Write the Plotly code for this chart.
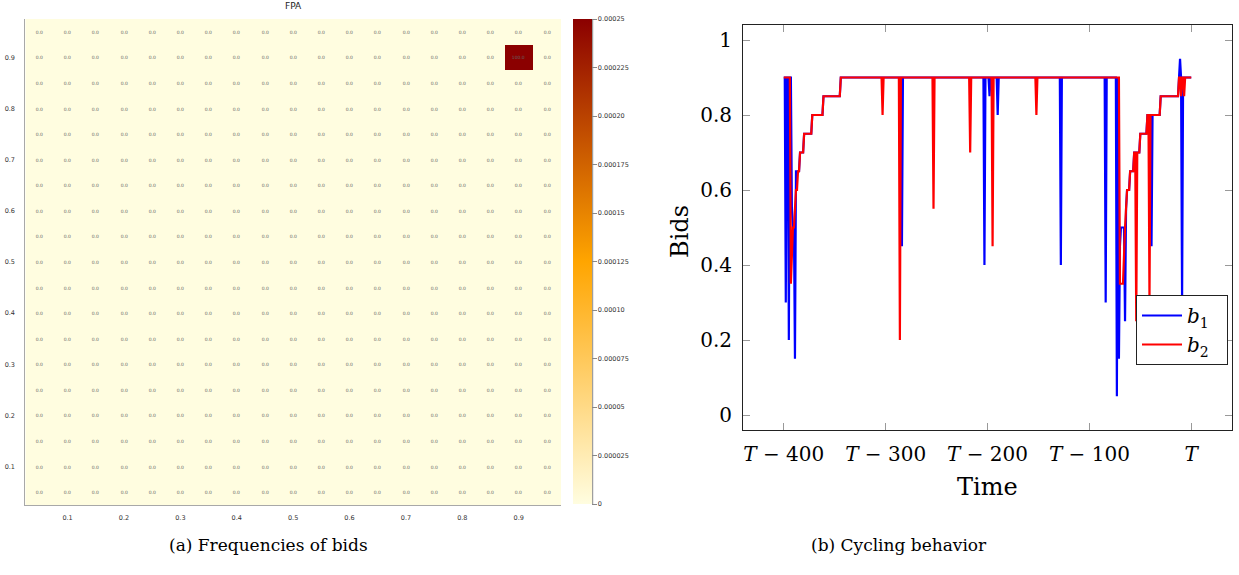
import plotly.graph_objects as go

# ---------------- Data: left panel (bid frequency grid) ----------------
bid_levels = [0.05, 0.1, 0.15, 0.2, 0.25, 0.3, 0.35, 0.4, 0.45, 0.5,
              0.55, 0.6, 0.65, 0.7, 0.75, 0.8, 0.85, 0.9, 0.95]
peak_bid_x = 0.9
peak_bid_y = 0.9
peak_freq = 0.00025
peak_pct = 100.0
axis_ticks = [0.1, 0.2, 0.3, 0.4, 0.5, 0.6, 0.7, 0.8, 0.9]
axis_ticklabels = ["0.1", "0.2", "0.3", "0.4", "0.5", "0.6", "0.7", "0.8", "0.9"]
cb_ticks = [0, 0.000025, 0.00005, 0.000075, 0.0001, 0.000125, 0.00015,
            0.000175, 0.0002, 0.000225, 0.00025]
cb_labels = ["0", "0.000025", "0.00005", "0.000075", "0.00010", "0.000125",
             "0.00015", "0.000175", "0.00020", "0.000225", "0.00025"]

# ---------------- Data: right panel (cycling behaviour) ----------------
# step index 0..400 corresponds to T-400 .. T
b1_t = [0, 1, 2, 3, 4, 5, 6, 7, 8, 9, 10, 11, 12, 15, 16, 19, 20, 27, 28, 38, 39, 55, 56,
        115, 116, 117, 196, 197, 198, 201, 202, 203, 209, 210, 211, 271, 272, 273,
        315, 316, 317, 326, 327, 328, 329, 330, 331, 334, 335, 336, 337, 339, 340,
        343, 344, 349, 350, 356, 357, 360, 361, 362, 369, 370, 387, 388, 389, 390,
        391, 392, 400]
b1_v = [0.9, 0.9, 0.3, 0.9, 0.9, 0.2, 0.9, 0.9, 0.55, 0.5, 0.5, 0.15, 0.65, 0.65, 0.7, 0.7,
        0.75, 0.75, 0.8, 0.8, 0.85, 0.85, 0.9,
        0.9, 0.45, 0.9, 0.9, 0.4, 0.9, 0.9, 0.85, 0.9, 0.9, 0.8, 0.9, 0.9, 0.4, 0.9,
        0.9, 0.3, 0.9, 0.9, 0.05, 0.9, 0.15, 0.45, 0.5, 0.5, 0.25, 0.55, 0.6, 0.6, 0.65,
        0.65, 0.7, 0.7, 0.75, 0.75, 0.8, 0.8, 0.45, 0.8, 0.8, 0.85, 0.85, 0.9, 0.95, 0.9,
        0.3, 0.9, 0.9]
b2_t = [0, 6, 7, 8, 9, 10, 11, 12, 13, 14, 15, 16, 19, 20, 27, 28, 38, 39, 55, 56,
        96, 97, 98, 113, 114, 115, 146, 147, 148, 182, 183, 184, 204, 205, 206,
        247, 248, 249, 329, 330, 333, 334, 335, 336, 337, 339, 340, 343, 344, 345,
        346, 347, 349, 350, 356, 357, 358, 359, 360, 369, 370, 387, 388, 389, 390,
        391, 392, 393, 394, 400]
b2_v = [0.9, 0.9, 0.35, 0.45, 0.5, 0.5, 0.55, 0.6, 0.6, 0.65, 0.65, 0.7, 0.7, 0.75, 0.75,
        0.8, 0.8, 0.85, 0.85, 0.9,
        0.9, 0.8, 0.9, 0.9, 0.2, 0.9, 0.9, 0.55, 0.9, 0.9, 0.7, 0.9, 0.9, 0.45, 0.9,
        0.9, 0.8, 0.9, 0.9, 0.35, 0.35, 0.45, 0.5, 0.55, 0.6, 0.6, 0.65, 0.65, 0.7, 0.7,
        0.25, 0.7, 0.7, 0.75, 0.75, 0.8, 0.8, 0.3, 0.8, 0.8, 0.85, 0.85, 0.9, 0.9, 0.85,
        0.9, 0.9, 0.85, 0.9, 0.9]
time_ticks = [0, 100, 200, 300, 400]
time_labels = ["<i>T</i> − 400", "<i>T</i> − 300", "<i>T</i> − 200", "<i>T</i> − 100", "<i>T</i>"]
bid_ticks = [0, 0.2, 0.4, 0.6, 0.8, 1.0]
bid_labels = ["0", "0.2", "0.4", "0.6", "0.8", "1"]

# ---------------- Build grid ----------------
z = [[peak_freq if (abs(bx - peak_bid_x) < 1e-9 and abs(by - peak_bid_y) < 1e-9) else 0.0
      for bx in bid_levels] for by in bid_levels]
txt = [[f"{peak_pct:.1f}" if v > 0 else "0.0" for v in row] for row in z]

W, H = 1239, 575
def px(x): return x / W
def py(y): return 1 - y / H

SANS = "DejaVu Sans"
SERIF = "DejaVu Serif"

fig = go.Figure()
fig.add_trace(go.Heatmap(
    x=bid_levels, y=bid_levels, z=z, text=txt, texttemplate="%{text}",
    textfont=dict(size=4.5, color="#666", family=SANS),
    colorscale=[[0, "#FFFDE0"], [0.5, "#FFA500"], [1, "#8B0000"]],
    zmin=0, zmax=0.00025, xaxis="x", yaxis="y", showlegend=False,
    colorbar=dict(x=px(573.3), xanchor="left", xpad=0, y=py(19), yanchor="top", ypad=0,
                  len=485 / H, lenmode="fraction", thickness=19, thicknessmode="pixels",
                  outlinewidth=0, tickvals=cb_ticks, ticktext=cb_labels, ticks="outside",
                  ticklen=5, tickcolor="#888", tickwidth=1,
                  tickfont=dict(size=6.5, family=SANS, color="#333")),
))

fig.add_trace(go.Scatter(x=b1_t, y=b1_v, mode="lines", name="<i>b</i><sub>1</sub>&nbsp;&nbsp;",
                         line=dict(color="#0000FF", width=2.2), xaxis="x2", yaxis="y2"))
fig.add_trace(go.Scatter(x=b2_t, y=b2_v, mode="lines", name="<i>b</i><sub>2</sub>&nbsp;&nbsp;",
                         line=dict(color="#FF0000", width=2.2), xaxis="x2", yaxis="y2"))

def ann(text, x, y, size, family, color="black", angle=0):
    return dict(text=text, x=px(x), y=py(y), xref="paper", yref="paper", showarrow=False,
                xanchor="center", yanchor="middle", textangle=angle,
                font=dict(size=size, family=family, color=color))

fig.update_layout(
    width=W, height=H, margin=dict(l=0, r=0, t=0, b=0),
    paper_bgcolor="white", plot_bgcolor="white",
    xaxis=dict(domain=[px(25.3), px(561)], range=[0.025, 0.975], anchor="y",
               tickvals=axis_ticks, ticktext=axis_ticklabels, showline=True,
               linecolor="#a8a8a8", linewidth=1, ticks="", showgrid=False, zeroline=False,
               tickfont=dict(size=6.5, family=SANS, color="#333"), ticklabelstandoff=6),
    yaxis=dict(domain=[py(505), py(19)], range=[0.025, 0.975], anchor="x",
               tickvals=axis_ticks, ticktext=axis_ticklabels, showline=True,
               linecolor="#a8a8a8", linewidth=1, ticks="", showgrid=False, zeroline=False,
               tickfont=dict(size=6.5, family=SANS, color="#333"), ticklabelstandoff=8),
    xaxis2=dict(domain=[px(743), px(1232)], range=[-40, 440], anchor="y2",
                tickvals=time_ticks, ticktext=time_labels, ticks="inside", ticklen=7,
                tickcolor="#999", showline=True, linecolor="#222", linewidth=1,
                mirror="allticks", showgrid=False, zeroline=False,
                tickfont=dict(size=20, family=SERIF, color="black"), ticklabelstandoff=6),
    yaxis2=dict(domain=[py(430), py(25)], range=[-0.04, 1.04], anchor="x2",
                tickvals=bid_ticks, ticktext=bid_labels, ticks="inside", ticklen=7,
                tickcolor="#999", showline=True, linecolor="#222", linewidth=1,
                mirror="allticks", showgrid=False, zeroline=False,
                tickfont=dict(size=20, family=SERIF, color="black"), ticklabelstandoff=6),
    legend=dict(x=px(1136), y=py(295), xanchor="left", yanchor="top",
                bordercolor="#222", borderwidth=1, bgcolor="white", itemwidth=40,
                font=dict(size=20, family=SERIF, color="black")),
    shapes=[dict(type="line", xref="paper", yref="paper", x0=px(592.7), x1=px(592.7),
                 y0=py(504), y1=py(19), line=dict(color="#888", width=1))],
    annotations=[
        ann("FPA", 293, 6, 9, SANS, "#222"),
        ann("Bids", 680, 232, 24, SERIF, angle=-90),
        ann("Time", 987, 487, 24, SERIF),
        ann("(a) Frequencies of bids", 268.5, 545, 17, SERIF),
        ann("(b) Cycling behavior", 899, 545, 17, SERIF),
    ],
)

fig.write_html("out.html")
